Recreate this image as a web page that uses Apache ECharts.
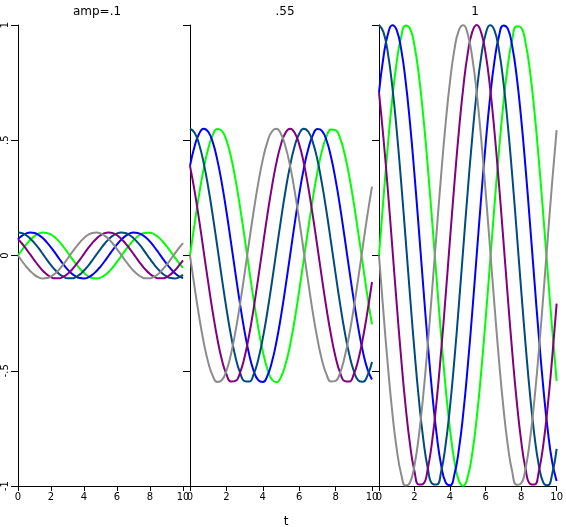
<!DOCTYPE html>
<html>
<head>
<meta charset="utf-8">
<script src="https://cdn.jsdelivr.net/npm/echarts@6/dist/echarts.min.js"></script>
<style>html,body{margin:0;padding:0;background:#fff;}#c{width:566px;height:527px;}</style>
</head>
<body>
<div id="c"></div>
<script>
// sample positions along t
var tValues = [0,0.25,0.5,0.75,1,1.25,1.5,1.75,2,2.25,2.5,2.75,3,3.25,3.5,3.75,4,4.25,4.5,4.75,5,5.25,5.5,5.75,6,6.25,6.5,6.75,7,7.25,7.5,7.75,8,8.25,8.5,8.75,9,9.25,9.5,9.75,10];

var panelTitles = ["amp=.1", ".55", "1"];
var xTickLabels = ["0","2","4","6","8","10"];
var yTickValues = [-1,-0.5,0,0.5,1];
var yTickLabels = ["-1","-.5","0",".5","1"];
var seriesNames = ["phase 0","phase 1","phase 2","phase 3","phase 4"];

// panel amp=.1
var p1Green = [0,.025,.048,.068,.084,.095,.100,.098,.091,.078,.060,.038,.014,-.011,-.035,-.057,-.076,-.090,-.098,-.100,-.096,-.086,-.071,-.051,-.028,-.003,.022,.045,.066,.082,.094,.099,.099,.092,.080,.062,.041,.017,-.008,-.032,-.054];
var p1Blue = [.071,.086,.096,.100,.098,.089,.076,.057,.035,.011,-.014,-.038,-.060,-.078,-.091,-.098,-.100,-.095,-.084,-.068,-.048,-.025,.000,.025,.048,.068,.084,.095,.100,.098,.091,.078,.060,.038,.014,-.011,-.035,-.057,-.076,-.090,-.098];
var p1Teal = [.100,.097,.088,.073,.054,.032,.007,-.018,-.042,-.063,-.080,-.092,-.099,-.099,-.094,-.082,-.065,-.045,-.021,.004,.028,.051,.071,.086,.096,.100,.098,.089,.075,.057,.035,.010,-.015,-.039,-.060,-.078,-.091,-.098,-.100,-.095,-.084];
var p1Purple = [.071,.051,.028,.004,-.021,-.045,-.066,-.082,-.094,-.099,-.099,-.092,-.080,-.063,-.041,-.018,.007,.032,.054,.073,.088,.097,.100,.097,.088,.073,.054,.031,.007,-.018,-.042,-.063,-.080,-.092,-.099,-.099,-.094,-.082,-.065,-.044,-.021];
var p1Gray = [0,-.025,-.048,-.068,-.084,-.095,-.100,-.098,-.091,-.078,-.060,-.038,-.014,.011,.035,.057,.076,.090,.098,.100,.096,.086,.071,.051,.028,.003,-.022,-.045,-.066,-.082,-.094,-.099,-.099,-.092,-.080,-.062,-.041,-.017,.008,.032,.054];

// panel amp=.55
var p2Green = [0,.136,.264,.375,.463,.522,.549,.541,.500,.428,.329,.210,.078,-.060,-.193,-.314,-.416,-.492,-.538,-.550,-.527,-.472,-.388,-.280,-.154,-.018,.118,.248,.361,.453,.516,.547,.544,.508,.439,.344,.227,.096,-.041,-.176,-.299];
var p2Blue = [.389,.473,.528,.550,.537,.492,.415,.313,.192,.058,-.079,-.211,-.330,-.429,-.501,-.541,-.549,-.522,-.462,-.374,-.263,-.135,.001,.137,.265,.376,.463,.522,.549,.541,.500,.427,.328,.209,.076,-.061,-.194,-.315,-.417,-.493,-.538];
var p2Teal = [.550,.533,.483,.402,.297,.173,.039,-.098,-.229,-.346,-.441,-.508,-.545,-.547,-.515,-.451,-.359,-.245,-.116,.021,.156,.282,.390,.474,.528,.550,.537,.491,.415,.312,.191,.057,-.080,-.212,-.331,-.429,-.501,-.542,-.548,-.521,-.462];
var p2Purple = [.389,.281,.155,.019,-.117,-.246,-.360,-.452,-.515,-.547,-.544,-.508,-.440,-.345,-.228,-.097,.040,.175,.298,.403,.483,.533,.550,.533,.482,.402,.296,.172,.038,-.099,-.230,-.346,-.441,-.509,-.545,-.547,-.515,-.451,-.359,-.244,-.115];
var p2Gray = [0,-.136,-.264,-.375,-.463,-.522,-.549,-.541,-.500,-.428,-.329,-.210,-.078,.060,.193,.314,.416,.492,.538,.550,.527,.472,.388,.280,.154,.018,-.118,-.248,-.361,-.453,-.516,-.547,-.544,-.508,-.439,-.344,-.227,-.096,.041,.176,.299];

// panel amp=1
var p3Green = [0,.247,.479,.682,.841,.949,.998,.984,.909,.778,.599,.382,.141,-.108,-.351,-.572,-.757,-.895,-.978,-.999,-.959,-.859,-.706,-.508,-.279,-.033,.215,.450,.657,.823,.938,.995,.989,.923,.799,.625,.412,.174,-.075,-.320,-.544];
var p3Blue = [.707,.860,.960,.999,.977,.894,.755,.570,.349,.106,-.143,-.384,-.600,-.779,-.910,-.984,-.997,-.948,-.840,-.680,-.477,-.245,.002,.250,.481,.683,.843,.950,.998,.984,.908,.777,.597,.380,.139,-.110,-.353,-.573,-.758,-.896,-.978];
var p3Teal = [1,.969,.878,.732,.540,.315,.071,-.178,-.416,-.628,-.801,-.924,-.990,-.994,-.937,-.821,-.654,-.446,-.211,.038,.284,.512,.709,.861,.960,.999,.977,.893,.754,.568,.347,.104,-.146,-.385,-.602,-.781,-.911,-.985,-.997,-.948,-.839];
var p3Purple = [.707,.510,.282,.035,-.213,-.448,-.655,-.822,-.937,-.994,-.990,-.923,-.800,-.626,-.414,-.176,.073,.317,.542,.733,.879,.970,1,.968,.877,.730,.538,.313,.069,-.180,-.418,-.630,-.802,-.925,-.990,-.994,-.936,-.820,-.652,-.444,-.209];
var p3Gray = [0,-.247,-.479,-.682,-.841,-.949,-.998,-.984,-.909,-.778,-.599,-.382,-.141,.108,.351,.572,.757,.895,.978,.999,.959,.859,.706,.508,.279,.033,-.215,-.450,-.657,-.823,-.938,-.995,-.989,-.923,-.799,-.625,-.412,-.174,.075,.320,.544];

var panels = [
  [p1Green, p1Blue, p1Teal, p1Purple, p1Gray],
  [p2Green, p2Blue, p2Teal, p2Purple, p2Gray],
  [p3Green, p3Blue, p3Teal, p3Purple, p3Gray]
];
var colors = ["#00ff00", "#0000ff", "#004a80", "#800080", "#8c8c8c"];

var gridDefs = [
  {left: 18, top: 25, width: 165, height: 461},
  {left: 190, top: 25, width: 182, height: 461},
  {left: 379, top: 25, width: 182, height: 461}
];
var titleCenters = [92, 280, 470];

function pairs(vals) {
  return tValues.map(function (t, i) { return [t, vals[i]]; });
}

var font = "DejaVu Sans";
var option = {
  animation: false,
  backgroundColor: "#ffffff",
  title: panelTitles.map(function (txt, i) {
    return {text: txt, left: titleCenters[i], top: 1, textAlign: "center",
      textStyle: {fontFamily: font, fontSize: 12, fontWeight: "normal", color: "#000"}};
  }).concat([{text: "t", left: 281, top: 511, textAlign: "center",
      textStyle: {fontFamily: font, fontSize: 12, fontWeight: "normal", color: "#000"}}]),
  grid: gridDefs.map(function (g) { return Object.assign({containLabel: false}, g); }),
  xAxis: gridDefs.map(function (g, i) {
    return {
      type: "value", gridIndex: i, min: 0, max: 10, interval: 2,
      axisLine: {show: true, onZero: false, lineStyle: {color: "#000", width: 1}},
      axisTick: {show: true, length: 5, lineStyle: {color: "#000"}},
      axisLabel: {show: true, margin: 6, fontFamily: font, fontSize: 10, color: "#000",
        formatter: function (v) { return xTickLabels[Math.round(v / 2)]; }},
      splitLine: {show: false}
    };
  }),
  yAxis: gridDefs.map(function (g, i) {
    return {
      type: "value", gridIndex: i, min: -1, max: 1, interval: 0.5,
      axisLine: {show: true, onZero: false, lineStyle: {color: "#000", width: 1}},
      axisTick: {show: true, length: 7, lineStyle: {color: "#000"}},
      axisLabel: {show: i === 0, rotate: 90, margin: 8, fontFamily: font, fontSize: 10, color: "#000",
        formatter: function (v) {
          var k = yTickValues.indexOf(v);
          return k >= 0 ? yTickLabels[k] : "";
        }},
      splitLine: {show: false}
    };
  }),
  series: []
};

panels.forEach(function (pv, pi) {
  pv.forEach(function (vals, si) {
    option.series.push({
      name: seriesNames[si], type: "line", xAxisIndex: pi, yAxisIndex: pi,
      data: pairs(vals), smooth: 0.5, showSymbol: false, symbol: "none",
      lineStyle: {color: colors[si], width: 2}, clip: false, z: 2 + si
    });
  });
});

var chart = echarts.init(document.getElementById("c"), null, {renderer: "canvas"});
chart.setOption(option);
</script>
</body>
</html>
